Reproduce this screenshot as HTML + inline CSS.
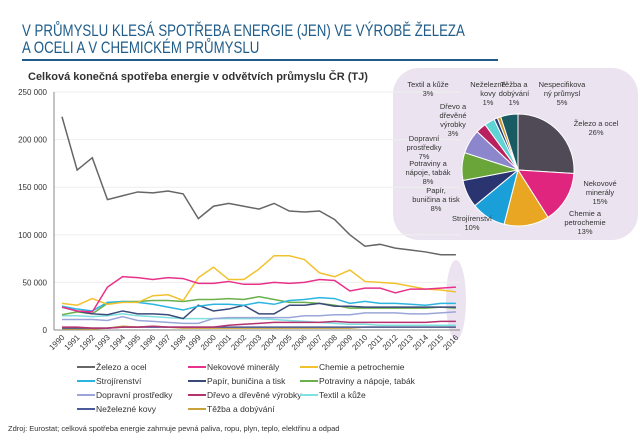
<!DOCTYPE html>
<html><head><meta charset="utf-8">
<style>
body{margin:0;width:640px;height:443px;background:#fff;font-family:"Liberation Sans",sans-serif;overflow:hidden;position:relative}
.t{position:absolute;left:22px;color:#1f5c8a;font-size:17px;white-space:nowrap;transform-origin:0 0;transform:scaleX(0.78)}
</style></head><body>
<div class="t" style="top:21px">V PRŮMYSLU KLESÁ SPOTŘEBA ENERGIE (JEN) VE VÝROBĚ ŽELEZA</div>
<div class="t" style="top:38px">A OCELI A V CHEMICKÉM PRŮMYSLU</div>
<div style="position:absolute;left:22px;top:59px;width:476px;height:2px;background:#1f5c8a"></div>
<svg id="c" width="640" height="443" style="position:absolute;left:0;top:0"></svg>
<script>
const years=[1990,1991,1992,1993,1994,1995,1996,1997,1998,1999,2000,2001,2002,2003,2004,2005,2006,2007,2008,2009,2010,2011,2012,2013,2014,2015,2016];
const seriesNames=["Železo a ocel","Nekovové minerály","Chemie a petrochemie","Strojírenství","Papír, buničina a tisk","Potraviny a nápoje, tabák","Dopravní prostředky","Dřevo a dřevěné výrobky","Textil a kůže","Neželezné kovy","Těžba a dobývání"];
const seriesColors=["#666","#e8318a","#f2c12e","#2bb5e0","#3a4a7a","#6ab04c","#9aa6d8","#b5326e","#7fe0e0","#4a5a9a","#c9a23a"];
const iron=[224,168,181,137,141,145,144,146,143,117,130,133,130,127,133,125,124,125,116,100,88,90,86,84,82,79,79];
const nekov=[24,20,19,45,56,55,53,55,54,49,49,51,48,48,50,49,50,53,52,41,44,44,39,43,43,44,45];
const chemie=[28,26,33,27,29,29,36,37,31,55,66,53,53,64,78,78,74,60,56,63,51,50,49,46,43,42,40];
const stroj=[25,22,20,29,30,29,27,24,21,25,27,27,26,29,27,31,32,34,33,28,30,28,28,27,26,28,28];
const papir=[24,20,17,16,20,17,17,16,12,26,20,22,26,17,17,26,26,28,25,25,24,24,24,24,24,24,24];
const potrav=[16,19,17,28,30,30,31,31,30,32,32,33,32,35,32,29,29,28,26,23,23,23,23,23,23,24,23];
const doprav=[11,11,11,10,14,10,9,8,7,7,12,13,13,13,13,13,15,15,16,16,18,18,18,17,17,18,19];
const drevo=[3,3,2,2,3,3,4,3,3,3,3,5,6,7,8,8,8,8,9,8,8,8,8,8,8,9,9];
const textil=[15,15,14,15,17,15,14,13,12,12,12,12,12,12,11,10,9,8,7,6,6,5,5,5,5,5,5];
const nezel=[2,2,2,2,3,3,3,3,3,3,3,3,3,3,3,3,3,3,3,3,3,3,3,3,3,3,3];
const tezba=[1,1,1,2,4,3,4,3,2,2,2,2,2,2,2,2,2,2,2,2,3,3,3,3,3,3,3];
const allSeries=[iron,nekov,chemie,stroj,papir,potrav,doprav,drevo,textil,nezel,tezba];
const yTicks=[0,50,100,150,200,250];
const yTickLabels=["0","50 000","100 000","150 000","200 000","250 000"];
const pieLabels=["Železo a ocel","Nekovové minerály","Chemie a petrochemie","Strojírenství","Papír, buničina a tisk","Potraviny a nápoje, tabák","Dopravní prostředky","Dřevo a dřevěné výrobky","Textil a kůže","Neželezné kovy","Těžba a dobývání","Nespecifikovaný průmysl"];
const pieValues=[26,15,13,10,8,8,7,3,3,1,1,5];
const pieColors=["#4f4a55","#e0257f","#e9a623","#1a9fd8","#2a3470","#6aa53a","#8c86cc","#b8205e","#5fd4d4","#2a3c7a","#c9952a","#1a5a63"];

const NS="http://www.w3.org/2000/svg";
const svg=document.getElementById('c');
function mk(tag,attrs,parent){const e=document.createElementNS(NS,tag);for(const k in attrs)e.setAttribute(k,attrs[k]);(parent||svg).appendChild(e);return e;}
const x0=62,dx=15.15,yb=330,ky=0.952;
const X=i=>x0+i*dx, Y=v=>yb-v*ky;

let t=mk('text',{x:28,y:80,'font-size':11,'font-weight':'bold',fill:'#333'});t.textContent="Celková konečná spotřeba energie v odvětvích průmyslu ČR (TJ)";



let bg=mk('rect',{x:393,y:68,width:245,height:172,rx:26,fill:'#ebe4f0'});


let el=mk('ellipse',{cx:456,cy:300,rx:10,ry:40,fill:'#ebe4f0'});



yTicks.forEach((v,i)=>{
  let g=mk('line',{x1:54,x2:460,y1:Y(v),y2:Y(v),stroke:i?'#eee':'#888','stroke-width':1});
  
  
  let l=mk('text',{x:47,y:Y(v)+3,'font-size':8,'text-anchor':'end',fill:'#333'});l.textContent=yTickLabels[i];
  
  
});
let ax=mk('line',{x1:54,x2:54,y1:92,y2:330,stroke:'#888'});


years.forEach((yr,i)=>{
  let l=mk('text',{x:X(i)+3,y:338,'font-size':8,'text-anchor':'end',fill:'#333',transform:`rotate(-45 ${X(i)+3} 338)`});l.textContent=yr;
  
  
});
for(let s=allSeries.length-1;s>=0;s--){
  let p=mk('polyline',{points:allSeries[s].map((v,i)=>X(i)+','+Y(v)).join(' '),fill:'none',stroke:seriesColors[s],'stroke-width':1.5});
  
  
}
seriesNames.forEach((n,i)=>{
  const cx=[77,188,300][i%3], cy=367+Math.floor(i/3)*14;
  let g=mk('g',{});
  
  
  mk('line',{x1:cx,x2:cx+18,y1:cy,y2:cy,stroke:seriesColors[i],'stroke-width':2},g);
  let tt=mk('text',{x:cx+19,y:cy+3,'font-size':8.5,fill:'#333'},g);tt.textContent=n;
});
let src=mk('text',{x:8,y:431,'font-size':7.5,fill:'#333'});src.textContent="Zdroj: Eurostat; celková spotřeba energie zahrnuje pevná paliva, ropu, plyn, teplo, elektřinu a odpad";



const pcx=518,pcy=170,pr=56;
const tot=pieValues.reduce((a,b)=>a+b,0);
let a=-Math.PI/2;
pieValues.forEach((v,i)=>{
  const a2=a+v/tot*2*Math.PI;
  const p=mk('path',{d:`M${pcx},${pcy} L${pcx+pr*Math.cos(a)},${pcy+pr*Math.sin(a)} A${pr},${pr} 0 ${a2-a>Math.PI?1:0} 1 ${pcx+pr*Math.cos(a2)},${pcy+pr*Math.sin(a2)} Z`,fill:pieColors[i],stroke:'#fff','stroke-width':1});
  
  
  a=a2;
});
const pieText=[[596,126,"Železo a ocel|26%"],[600,186,"Nekovové|minerály|15%"],[585,216,"Chemie a|petrochemie|13%"],[472,221,"Strojírenství|10%"],[436,193,"Papír,|buničina a tisk|8%"],[428,166,"Potraviny a|nápoje, tabák|8%"],[424,141,"Dopravní|prostředky|7%"],[453,109,"Dřevo a|dřevěné|výrobky|3%"],[428,87,"Textil a kůže|3%"],[488,87,"Neželezné|kovy|1%"],[514,87,"Těžba a|dobývání|1%"],[562,87,"Nespecifikova|ný průmysl|5%"]];
pieText.forEach(([x,y,s])=>{
  let tt=mk('text',{x:x,y:y,'font-size':7.5,'text-anchor':'middle',fill:'#333'});
  
  
  s.split('|').forEach((ln,j)=>{let sp=mk('tspan',{x:x,dy:j?9:0},tt);sp.textContent=ln;});
});
</script>
</body></html>
